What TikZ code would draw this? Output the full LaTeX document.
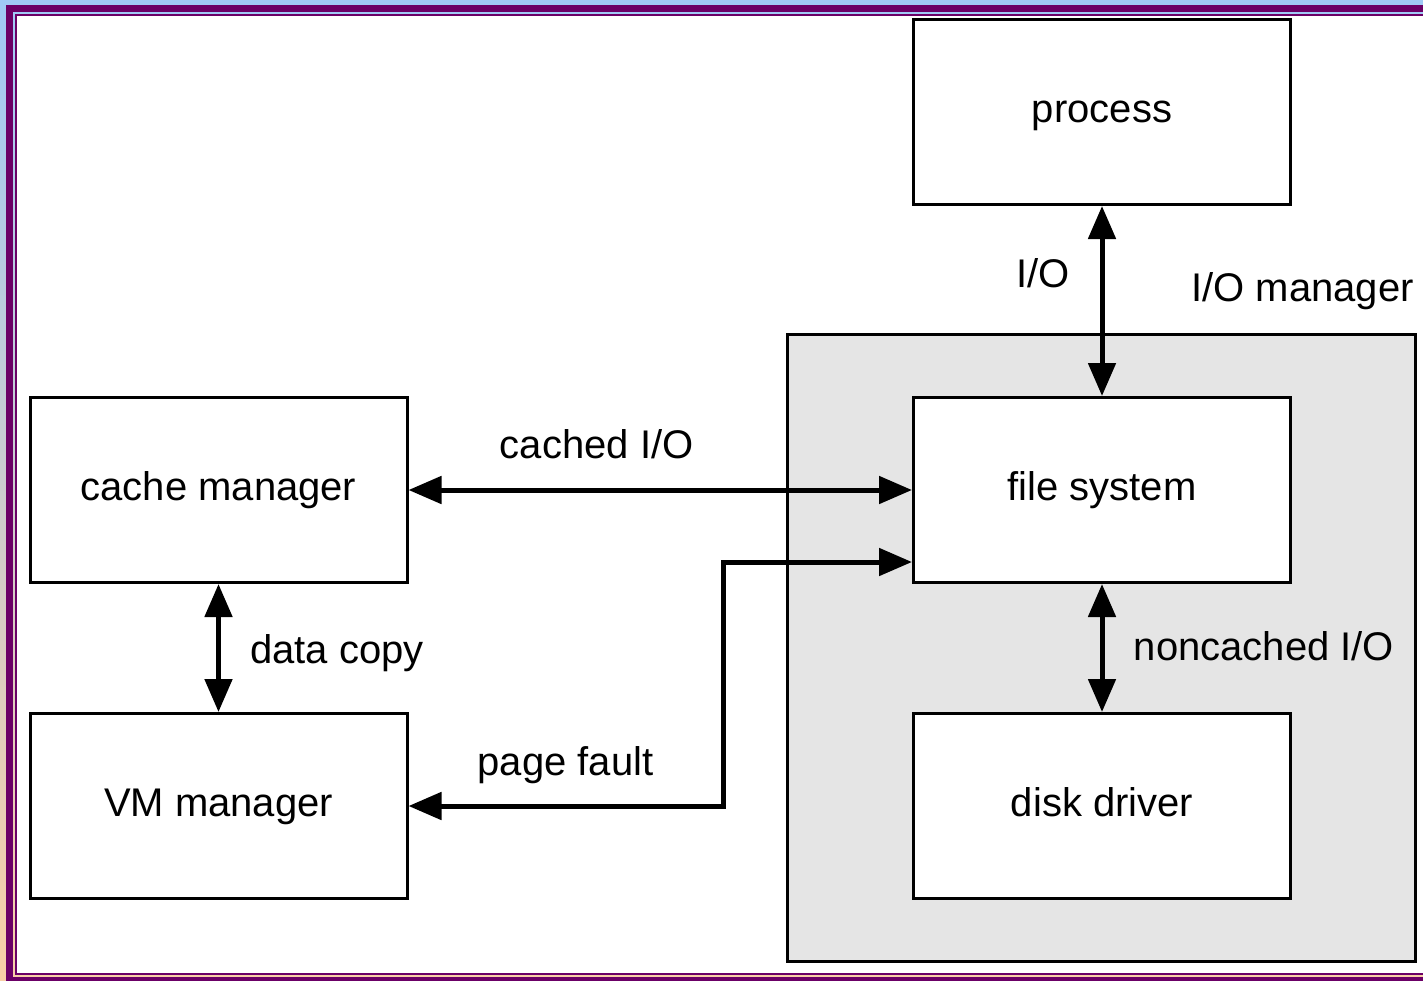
\documentclass[tikz,border=0pt]{standalone}
\usepackage{fontspec}
\setmainfont{Liberation Sans}
\usetikzlibrary{arrows.meta,calc}
\definecolor{framepurple}{RGB}{107,0,102}
\definecolor{framesky}{RGB}{160,202,246}
\definecolor{framepeach}{RGB}{248,207,166}

\begin{document}
\begin{tikzpicture}[x=0.5pt,y=-0.5pt,>={Triangle[length=16.5pt,width=13.5pt]},node distance=189pt,
  font=\fontsize{20}{24}\selectfont,
  blk/.style={draw,line width=1.5pt,fill=white,minimum width=188.5pt,minimum height=92.5pt,inner sep=0pt,text height=14.5pt,text depth=4.2pt},
  lbl/.style={anchor=base,inner sep=0pt},
  io/.style={<->,line width=2.5pt}]
\useasboundingbox (0,0) rectangle (1423,980);
\clip (0,0) rectangle (1423,980);
\shade[top color=framesky,bottom color=framepeach] (0,0) rectangle (1423,980);
\draw[framepurple,line width=3.5pt] (9.5,8.5) rectangle (1440,980.5);
\draw[framepurple,line width=1pt,fill=white] (16,15) rectangle (1440,974);

\node[draw,line width=1.5pt,fill=gray!20,minimum width=314pt,minimum height=313.5pt](iom) at (1101.5,648) {};

\node[blk](proc) at (1102,112) {process};
\node[blk](fs)[below of=proc] {file system};
\node[blk](dd) at (1102,806) {disk driver};
\node[blk](cm) at (218.5,490) {cache manager};
\node[blk](vm) at (218.5,806) {VM manager};
\coordinate (bend) at (723,806);

\draw[io](proc)--(fs);
\draw[io](cm)--(fs);
\draw[io](cm)--(vm);
\draw[io](fs)--(dd);
\draw[io](vm)--(bend)|-($(fs.west)+(0,72)$);

\node[lbl](lio) at (1043,287) {I/O};
\node[lbl](liom) at (1302.5,301) {I/O manager};
\node[lbl](lcached) at (596.7,458) {cached I/O};
\node[lbl](lcopy) at (337,663) {data copy};
\node[lbl](lnc) at (1264,660) {noncached I/O};
\node[lbl](lpf) at (565.5,775) {page fault};
\end{tikzpicture}
\end{document}
